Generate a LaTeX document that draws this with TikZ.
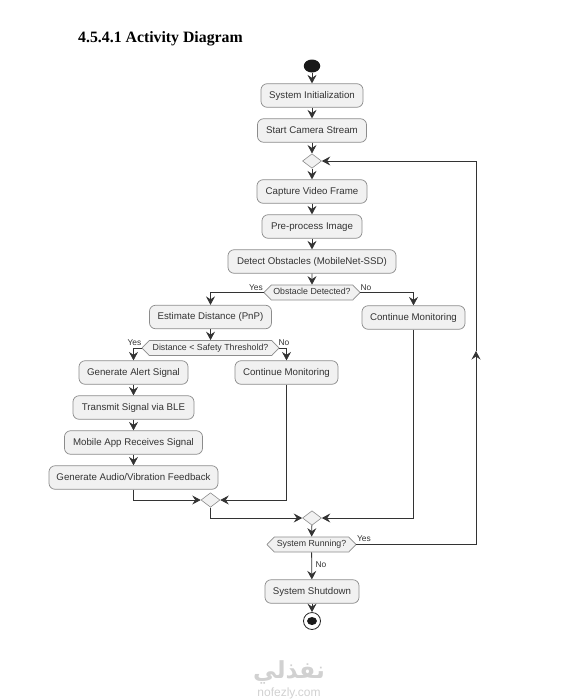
\documentclass[tikz,border=0pt]{standalone}
\usepackage{fontspec}
\usepackage{xcolor}
\usepackage{tikz}
\usetikzlibrary{arrows.meta, shapes.geometric, shapes.symbols}
\setmainfont{Liberation Sans}
\newfontfamily\titlefont{Liberation Serif}
\newfontfamily\arabicfont[Script=Arabic]{DejaVu Sans}
\TeXXeTstate=1
\definecolor{actfill}{RGB}{241, 241, 241}
\definecolor{actline}{gray}{0.55}
\definecolor{flowline}{gray}{0.2}
\definecolor{acttext}{gray}{0.2}
\definecolor{markcol}{gray}{0.82}
\tikzset{
	act/.style={draw=actline, fill=actfill, rounded corners=6pt, line width=0.7pt, inner sep=0pt, minimum height=23.5pt, text height=6.5pt, text depth=1.5pt, font=\fontsize{9.7}{11}\selectfont, text=acttext},
	ask/.style={draw=actline, fill=actfill, shape=signal, signal to=west and east, signal pointer angle=92, line width=0.7pt, inner sep=0pt, minimum height=15pt, text height=5.5pt, text depth=1.5pt, font=\fontsize{8.8}{10}\selectfont, text=acttext},
	merge/.style={draw=actline, fill=actfill, diamond, line width=0.6pt, inner sep=0pt, minimum width=19pt, minimum height=14.5pt},
	flow/.style={draw=flowline, line width=0.8pt, -{Stealth[inset=3pt, length=8.5pt, width=9pt]}},
	branch/.style={font=\fontsize{8.4}{10}\selectfont, text=acttext, inner sep=0pt},
}
\begin{document}
\begin{tikzpicture}[x=1pt, y=-1pt]
	\useasboundingbox (0,0) rectangle (577,699);

	% heading
	\node[anchor=west, inner sep=0pt, font=\titlefont\bfseries\fontsize{15.8}{17}\selectfont] (heading) at (78,38.5) {4.5.4.1 Activity Diagram};

	% main column
	\node[fill=black!90, ellipse, inner sep=0pt, minimum width=16.5pt, minimum height=13pt] (start) at (312,66) {};
	\node[act, minimum width=102pt] (init) at (312,95.5) {System Initialization};
	\node[act, minimum width=109pt] (stream) at (312,130.5) {Start Camera Stream};
	\node[merge] (loop) at (312,161) {};
	\node[act, minimum width=110pt] (capture) at (312,191.5) {Capture Video Frame};
	\node[act, minimum width=100pt] (prep) at (312,226.5) {Pre-process Image};
	\node[act, minimum width=168pt] (detect) at (312,261.5) {Detect Obstacles (MobileNet-SSD)};
	\node[ask, minimum width=96pt] (obst) at (312,292.5) {Obstacle Detected?};

	% obstacle found
	\node[act, minimum width=122pt] (dist) at (210.5,317) {Estimate Distance (PnP)};
	\node[act, minimum width=103pt] (contb) at (413.5,317.5) {Continue Monitoring};
	\node[ask, minimum width=137pt] (thres) at (210.5,348) {Distance < Safety Threshold?};
	\node[act, minimum width=109pt] (alert) at (133.5,372.5) {Generate Alert Signal};
	\node[act, minimum width=103pt] (conta) at (286.5,372.5) {Continue Monitoring};
	\node[act, minimum width=121pt] (ble) at (133.5,407.5) {Transmit Signal via BLE};
	\node[act, minimum width=138pt] (app) at (133.5,442.5) {Mobile App Receives Signal};
	\node[act, minimum width=169pt] (feed) at (133.5,477.5) {Generate Audio/Vibration Feedback};

	% closing part
	\node[merge] (joina) at (210.5,500) {};
	\node[merge] (joinb) at (312,518) {};
	\node[ask, minimum width=89pt] (run) at (311.5,544.5) {System Running?};
	\node[act, minimum width=94pt] (stop) at (312,591.5) {System Shutdown};
	\node[circle, draw=black!85, fill=white, line width=0.8pt, inner sep=0pt, minimum size=17pt] (finish) at (312,621) {};
	\node[fill=black!90, ellipse, inner sep=0pt, minimum width=10pt, minimum height=8pt] (finishdot) at (312,621) {};

	% branch labels
	\node[branch] (yesa) at (256,287.5) {Yes};
	\node[branch] (noa) at (366,288) {No};
	\node[branch] (yesb) at (134.5,343) {Yes};
	\node[branch] (nob) at (284,343) {No};
	\node[branch] (yesc) at (364,539) {Yes};
	\node[branch] (noc) at (321,565) {No};

	% faint mark at the foot of the page
	\node[inner sep=0pt, text=markcol, font=\arabicfont\bfseries\fontsize{23.5}{25}\selectfont] (markar) at (289,672) {\beginR نفذلي\endR};
	\node[inner sep=0pt, text=markcol, font=\fontsize{12}{14}\selectfont] (markla) at (289,693) {nofezly.com};

	\coordinate (loopmid) at (476,351);

	% main flow
	\draw[flow] (start) -- (init);
	\draw[flow] (init) -- (stream);
	\draw[flow] (stream) -- (loop);
	\draw[flow] (loop) -- (capture);
	\draw[flow] (capture) -- (prep);
	\draw[flow] (prep) -- (detect);
	\draw[flow] (detect) -- (obst);
	\draw[flow] (obst.west) -| (dist.north);
	\draw[flow] (obst.east) -| (contb.north);
	\draw[flow] (dist) -- (thres);
	\draw[flow] (thres.west) -| (alert.north);
	\draw[flow] (thres.east) -| (conta.north);
	\draw[flow] (alert) -- (ble);
	\draw[flow] (ble) -- (app);
	\draw[flow] (app) -- (feed);
	\draw[flow] (feed.south) |- (joina.west);
	\draw[flow] (conta.south) |- (joina.east);
	\draw[flow] (joina.south) |- (joinb.west);
	\draw[flow] (contb.south) |- (joinb.east);
	\draw[flow] (joinb) -- (run);
	\draw[flow] (run) -- (stop);
	\draw[flow] (stop) -- (finish);

	% way back to the top
	\draw[flow] (run.east) -| (loopmid);
	\draw[flow] (loopmid) |- (loop.east);
\end{tikzpicture}
\end{document}
